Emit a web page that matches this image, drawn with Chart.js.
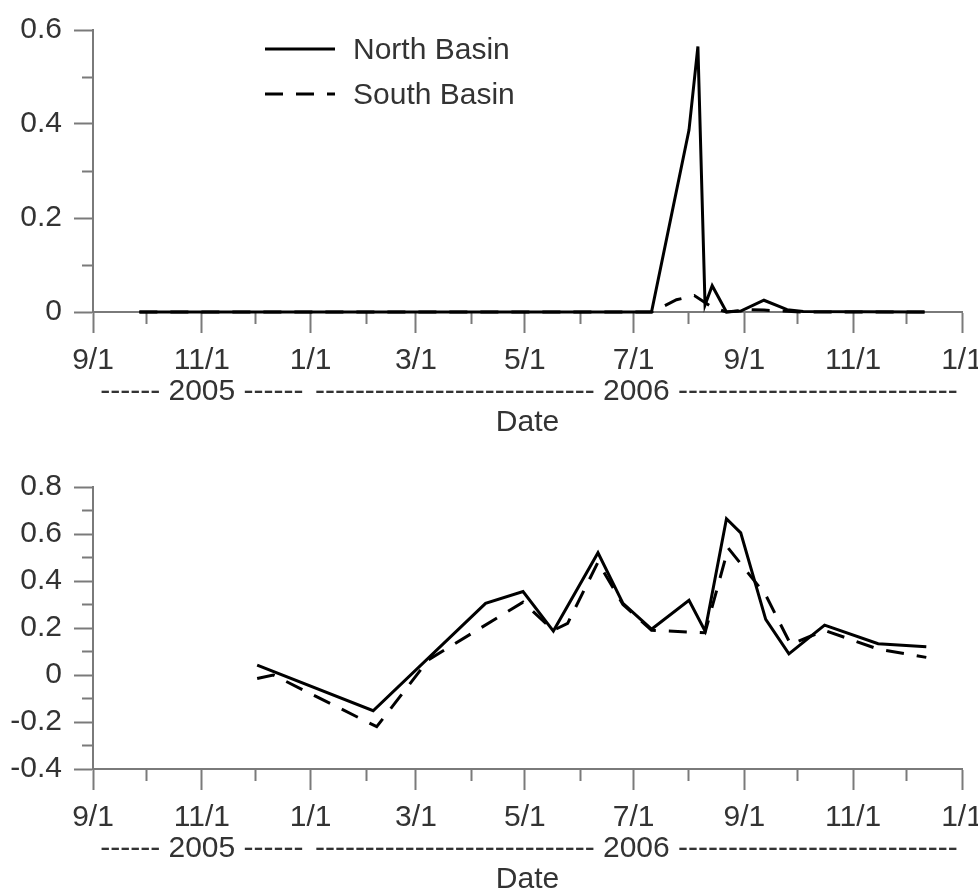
<!DOCTYPE html>
<html>
<head>
<meta charset="utf-8">
<script src="https://cdn.jsdelivr.net/npm/chart.js@4.4.1/dist/chart.umd.min.js"></script>
<style>
  html, body { margin: 0; padding: 0; background: #fff; overflow: hidden; width: 978px; height: 890px; }
  .panel { position: absolute; left: 0; width: 1000px; height: 455px; }
  #legend { position: absolute; left: 265px; top: 26px; font: 30px "Liberation Sans", Arial, sans-serif; color: #333; }
  #legend .row { display: flex; align-items: center; height: 45px; }
  #legend svg { margin-right: 18px; }
</style>
</head>
<body>
<div class="panel" style="top:0"><canvas id="chartTop" width="1000" height="455"></canvas></div>
<div class="panel" style="top:457px"><canvas id="chartBottom" width="1000" height="455"></canvas></div>
<div id="legend"></div>
<script>
// x axis: month ticks, every other one labelled
const monthTicks = ['2005-09-01', '2005-10-01', '2005-11-01', '2005-12-01', '2006-01-01', '2006-02-01',
  '2006-03-01', '2006-04-01', '2006-05-01', '2006-06-01', '2006-07-01', '2006-08-01', '2006-09-01',
  '2006-10-01', '2006-11-01', '2006-12-01', '2007-01-01'];
const monthLabels = ['9/1', '', '11/1', '', '1/1', '', '3/1', '', '5/1', '', '7/1', '', '9/1', '', '11/1', '', '1/1'];

// year row under the month labels
const yearSpans = [['2005-09-01', '2006-01-01'], ['2006-01-01', '2007-01-01']];
const yearLabels = ['------ 2005 ------',
  '---------------------------- 2006 ----------------------------'];

const seriesNames = ['North Basin', 'South Basin'];

// top panel
const topYTicks = [0, 0.1, 0.2, 0.3, 0.4, 0.5, 0.6];
const topYLabels = ['0', '', '0.2', '', '0.4', '', '0.6'];
const topNorthDates = ['2005-09-27', '2006-07-11', '2006-08-01', '2006-08-06', '2006-08-10', '2006-08-14',
  '2006-08-22', '2006-08-30', '2006-09-12', '2006-09-25', '2006-10-04', '2006-12-11'];
const topNorthValues = [0, 0, 0.387, 0.565, 0.015, 0.056, 0, 0.002, 0.025, 0.005, 0.001, 0];
const topSouthDates = ['2005-09-27', '2006-07-11', '2006-07-14', '2006-07-25', '2006-08-04', '2006-08-14',
  '2006-08-22', '2006-09-05', '2006-09-12', '2006-10-04', '2006-12-11'];
const topSouthValues = [0, 0, 0.005, 0.026, 0.035, 0.01, 0, 0.005, 0.004, 0, 0];

// bottom panel
const botYTicks = [-0.4, -0.3, -0.2, -0.1, 0, 0.1, 0.2, 0.3, 0.4, 0.5, 0.6, 0.7, 0.8];
const botYLabels = ['-0.4', '', '-0.2', '', '0', '', '0.2', '', '0.4', '', '0.6', '', '0.8'];
const botNorthDates = ['2005-12-02', '2006-02-05', '2006-04-09', '2006-04-30', '2006-05-17', '2006-06-11',
  '2006-06-25', '2006-07-11', '2006-08-01', '2006-08-10', '2006-08-22', '2006-08-30', '2006-09-13',
  '2006-09-26', '2006-10-16', '2006-11-15', '2006-12-12'];
const botNorthValues = [0.042, -0.152, 0.305, 0.355, 0.187, 0.52, 0.305, 0.195, 0.318, 0.187, 0.665, 0.605,
  0.237, 0.09, 0.212, 0.133, 0.12];
const botSouthDates = ['2005-12-02', '2005-12-11', '2006-02-07', '2006-03-08', '2006-04-30', '2006-05-17',
  '2006-05-25', '2006-06-11', '2006-06-25', '2006-07-11', '2006-08-10', '2006-08-23', '2006-09-13',
  '2006-09-27', '2006-10-16', '2006-11-15', '2006-12-12'];
const botSouthValues = [-0.015, 0.0, -0.22, 0.065, 0.31, 0.19, 0.22, 0.48, 0.30, 0.19, 0.18, 0.54, 0.34,
  0.13, 0.19, 0.11, 0.075];

const axisColor = '#7a7a7a';
const textColor = '#333';
const font30 = { family: '"Liberation Sans", Arial, sans-serif', size: 30 };
const southDash = [18, 13];

// days since the start of the axis
function dayNum(s) {
  const [y, m, d] = s.split('-').map(Number);
  return (Date.UTC(y, m - 1, d) - Date.UTC(2005, 8, 1)) / 86400000;
}
const xMin = dayNum(monthTicks[0]);
const xMax = dayNum(monthTicks[monthTicks.length - 1]);

function points(dates, values) {
  return dates.map((d, i) => ({ x: dayNum(d), y: values[i] }));
}

function makePanel(id, north, south, yTicks, yLabels, padTop) {
  return new Chart(document.getElementById(id), {
    type: 'line',
    data: {
      datasets: [
        { label: seriesNames[1], data: south, borderColor: '#000', borderWidth: 3, borderDash: southDash,
          pointRadius: 0, tension: 0, clip: 4 },
        { label: seriesNames[0], data: north, borderColor: '#000', borderWidth: 3,
          pointRadius: 0, tension: 0, clip: 4 }
      ]
    },
    options: {
      responsive: false,
      animation: false,
      layout: { padding: { top: padTop, left: 0, right: 38, bottom: 0 } },
      plugins: { legend: { display: false }, tooltip: { enabled: false } },
      scales: {
        x: {
          type: 'linear', position: 'bottom', weight: 0, min: xMin, max: xMax,
          afterBuildTicks: s => { s.ticks = monthTicks.map(d => ({ value: dayNum(d) })); },
          afterFit: s => { s.height = 62; },
          border: { color: axisColor, width: 2 },
          grid: {
            drawOnChartArea: false, tickLength: 21, tickColor: axisColor, tickWidth: 2,
            tickBorderDash: c => monthLabels[c.index] ? [] : [11, 100]
          },
          ticks: { autoSkip: false, maxRotation: 0, padding: 10, color: textColor, font: font30,
            callback: (v, i) => monthLabels[i] }
        },
        x2: {
          type: 'linear', position: 'bottom', weight: 1, min: xMin, max: xMax,
          afterBuildTicks: s => {
            s.ticks = yearSpans.map(([a, b]) => ({ value: (dayNum(a) + dayNum(b)) / 2 }));
          },
          afterFit: s => { s.height = 81; },
          border: { display: false },
          grid: { display: false, drawTicks: false },
          ticks: { autoSkip: false, maxRotation: 0, padding: 0, color: textColor, font: font30,
            callback: (v, i) => yearLabels[i] },
          title: { display: true, text: 'Date', color: textColor, font: font30, padding: { top: 0, bottom: 14 } }
        },
        y: {
          min: yTicks[0], max: yTicks[yTicks.length - 1],
          afterBuildTicks: s => { s.ticks = yTicks.map(v => ({ value: v })); },
          afterFit: s => { s.width = 93; },
          border: { color: axisColor, width: 2 },
          grid: {
            drawOnChartArea: false, tickLength: 19, tickColor: axisColor, tickWidth: 2,
            tickBorderDash: c => yLabels[c.index] ? [] : [0, 8, 11, 100]
          },
          ticks: { autoSkip: false, padding: 12, color: textColor, font: font30,
            callback: (v, i) => yLabels[i] }
        }
      }
    }
  });
}

const topChart = makePanel('chartTop', points(topNorthDates, topNorthValues),
  points(topSouthDates, topSouthValues), topYTicks, topYLabels, 25);
makePanel('chartBottom', points(botNorthDates, botNorthValues),
  points(botSouthDates, botSouthValues), botYTicks, botYLabels, 23);

// legend built from the top chart's datasets
const legend = document.getElementById('legend');
[1, 0].forEach(i => {
  const ds = topChart.data.datasets[i];
  const dash = ds.borderDash ? ds.borderDash.join(' ') : 'none';
  const row = document.createElement('div');
  row.className = 'row';
  row.innerHTML = '<svg width="70" height="6"><line x1="0" y1="3" x2="70" y2="3" stroke="#000" stroke-width="3" stroke-dasharray="' +
    dash + '"/></svg><span>' + ds.label + '</span>';
  legend.appendChild(row);
});
</script>
</body>
</html>
